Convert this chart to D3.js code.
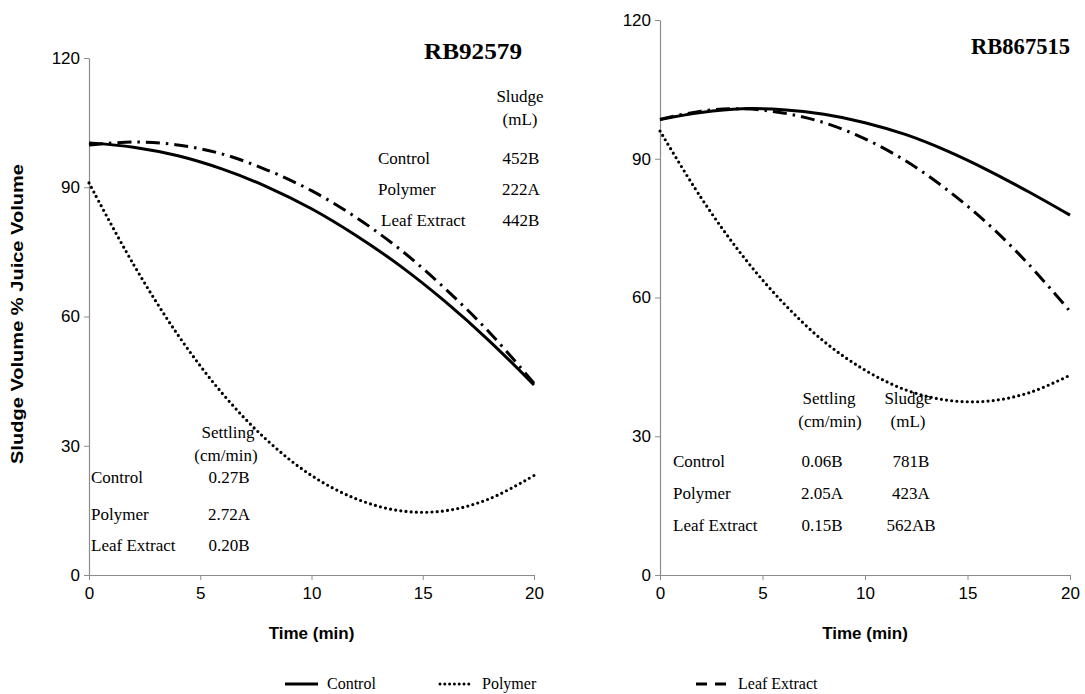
<!DOCTYPE html>
<html>
<head>
<meta charset="utf-8">
<script src="https://cdn.jsdelivr.net/npm/d3@7"></script>
<style>
  body { margin: 0; background: #fff; }
  .tick text { font-family: "Liberation Sans", Arial, sans-serif; font-size: 17px; fill: #000; }
  .tick line, .domain { stroke: #8c8c8c; }
  .note { font-family: "Liberation Serif", "Times New Roman", serif; font-size: 17px; fill: #000; }
</style>
</head>
<body>
<svg width="1085" height="694"></svg>
<script>
// time points (min)
const times = [0, 2, 4, 6, 8, 10, 12, 14, 16, 18, 20];

// RB92579 - sludge volume % juice volume
const rb92579Control = [100.3, 99.3, 97.3, 94.2, 90.1, 85.0, 78.8, 71.7, 63.5, 54.3, 44.1];
const rb92579Polymer = [91.0, 72.1, 55.7, 42.1, 31.3, 23.1, 17.7, 14.9, 14.9, 17.7, 23.1];
const rb92579Leaf = [99.8, 100.5, 99.8, 97.7, 94.0, 89.2, 83.0, 75.5, 66.5, 56.3, 44.5];

// RB867515
const rb867515Control = [98.5, 100.0, 100.8, 100.6, 99.6, 97.8, 95.2, 91.7, 87.5, 82.8, 77.8];
const rb867515Polymer = [96.0, 81.6, 69.2, 58.9, 50.5, 44.3, 40.0, 37.8, 37.6, 39.4, 43.2];
const rb867515Leaf = [98.5, 100.3, 100.8, 99.9, 97.8, 94.3, 89.5, 83.3, 75.9, 67.1, 57.0];

const yTicks = [0, 30, 60, 90, 120];
const xTicks = [0, 5, 10, 15, 20];
const treatments = ["Control", "Polymer", "Leaf Extract"];

const settling92579 = ["0.27B", "2.72A", "0.20B"];
const sludge92579 = ["452B", "222A", "442B"];
const settling867515 = ["0.06B", "2.05A", "0.15B"];
const sludge867515 = ["781B", "423A", "562AB"];

const svg = d3.select("svg");

const styles = {
  Control: { dash: null, width: 3, cap: "butt" },
  Polymer: { dash: "0,5.2", width: 3.2, cap: "round" },
  "Leaf Extract": { dash: "14,6,2.5,6", width: 3, cap: "butt" }
};

function panel(opts) {
  const x = d3.scaleLinear().domain([0, 20]).range([opts.x0, opts.x1]);
  const y = d3.scaleLinear().domain([0, 120]).range([575, opts.yTop]);

  const g = svg.append("g");

  g.append("g")
    .attr("transform", `translate(${opts.x0},0)`)
    .call(d3.axisLeft(y).tickValues(yTicks).tickSize(5).tickSizeOuter(0).tickPadding(4));

  g.append("g")
    .attr("transform", "translate(0,575)")
    .call(d3.axisBottom(x).tickValues(xTicks).tickSize(5).tickSizeOuter(0).tickPadding(7));

  g.selectAll(".domain").attr("stroke-width", 1.2);

  const line = d3.line()
    .x((d, i) => x(times[i]))
    .y(d => y(d))
    .curve(d3.curveCatmullRom);

  opts.series.forEach(s => {
    const st = styles[s.name];
    g.append("path")
      .datum(s.values)
      .attr("d", line)
      .attr("fill", "none")
      .attr("stroke", "#000")
      .attr("stroke-width", st.width)
      .attr("stroke-linecap", st.cap)
      .attr("stroke-dasharray", st.dash);
  });

  g.append("text")
    .attr("x", (opts.x0 + opts.x1) / 2)
    .attr("y", 639)
    .attr("text-anchor", "middle")
    .style("font-family", "'Liberation Sans', Arial, sans-serif")
    .style("font-size", "17px")
    .style("font-weight", "bold")
    .text("Time (min)");

  g.append("text")
    .attr("x", opts.title.x)
    .attr("y", opts.title.y)
    .attr("textLength", opts.title.w)
    .attr("lengthAdjust", "spacingAndGlyphs")
    .style("font-family", "'Liberation Serif', 'Times New Roman', serif")
    .style("font-size", "24px")
    .style("font-weight", "bold")
    .text(opts.title.text);

  return g;
}

function note(g, txt, x, y, anchor) {
  g.append("text").attr("class", "note")
    .attr("x", x).attr("y", y)
    .attr("text-anchor", anchor || "start")
    .text(txt);
}

// left panel
const left = panel({
  x0: 89, x1: 534, yTop: 58,
  title: { text: "RB92579", x: 424, y: 59, w: 98 },
  series: [
    { name: "Control", values: rb92579Control },
    { name: "Polymer", values: rb92579Polymer },
    { name: "Leaf Extract", values: rb92579Leaf }
  ]
});

note(left, "Sludge", 520, 102, "middle");
note(left, "(mL)", 520, 125, "middle");
const leftTopRows = [164, 195, 226];
treatments.forEach((t, i) => {
  note(left, t, i === 2 ? 381 : 378, leftTopRows[i]);
  note(left, sludge92579[i], 521, leftTopRows[i], "middle");
});

note(left, "Settling", 228, 438, "middle");
note(left, "(cm/min)", 226, 461, "middle");
const leftBotRows = [483, 520, 551];
treatments.forEach((t, i) => {
  note(left, t, 91, leftBotRows[i]);
  note(left, settling92579[i], 229, leftBotRows[i], "middle");
});

// right panel
const right = panel({
  x0: 660, x1: 1070, yTop: 20,
  title: { text: "RB867515", x: 971, y: 54, w: 99 },
  series: [
    { name: "Control", values: rb867515Control },
    { name: "Polymer", values: rb867515Polymer },
    { name: "Leaf Extract", values: rb867515Leaf }
  ]
});

note(right, "Settling", 829, 404, "middle");
note(right, "(cm/min)", 830, 427, "middle");
note(right, "Sludge", 908, 404, "middle");
note(right, "(mL)", 908, 427, "middle");
const rightRows = [467, 499, 531];
treatments.forEach((t, i) => {
  note(right, t, 673, rightRows[i]);
  note(right, settling867515[i], 822, rightRows[i], "middle");
  note(right, sludge867515[i], 911, rightRows[i], "middle");
});

// y axis title
svg.append("text")
  .attr("transform", "translate(23,314) rotate(-90)")
  .attr("text-anchor", "middle")
  .attr("textLength", 300)
  .attr("lengthAdjust", "spacingAndGlyphs")
  .style("font-family", "'Liberation Sans', Arial, sans-serif")
  .style("font-size", "16px")
  .style("font-weight", "bold")
  .text("Sludge Volume % Juice Volume");

// legend
const legendItems = [
  { name: "Control", x: 285, dash: null, cap: "butt", w: 3 },
  { name: "Polymer", x: 440, dash: "0,4.8", cap: "round", w: 3 },
  { name: "Leaf Extract", x: 696, dash: "11,8", cap: "butt", w: 3 }
];
const legend = svg.append("g");
legendItems.forEach(it => {
  legend.append("line")
    .attr("x1", it.x).attr("x2", it.x + (it.name === "Leaf Extract" ? 30 : 33))
    .attr("y1", 684).attr("y2", 684)
    .attr("stroke", "#000")
    .attr("stroke-width", it.w)
    .attr("stroke-linecap", it.cap)
    .attr("stroke-dasharray", it.dash);
  legend.append("text").attr("class", "note")
    .attr("x", it.x + 42)
    .attr("y", 689)
    .style("font-size", "16px")
    .text(it.name);
});
</script>
</body>
</html>
